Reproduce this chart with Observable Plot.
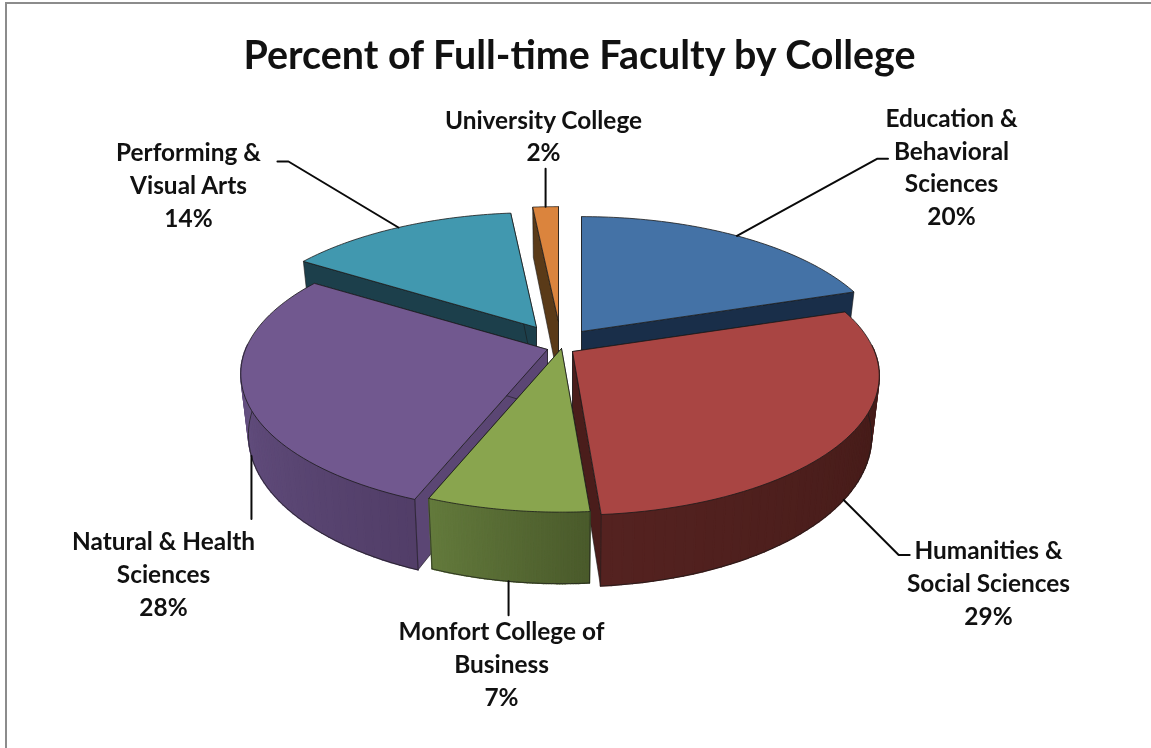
<!DOCTYPE html>
<html><head><meta charset="utf-8">
<script src="https://cdn.jsdelivr.net/npm/d3@7"></script>
<script src="https://cdn.jsdelivr.net/npm/@observablehq/plot@0.6"></script>
<style>
html,body{margin:0;padding:0;background:#fff;overflow:hidden}
#frame{position:relative;width:1151px;height:748px;box-sizing:border-box;overflow:hidden;filter:blur(0.4px)}
#frame:before{content:"";position:absolute;left:5px;top:2px;right:-10px;bottom:-10px;border:2px solid #8c8c8c;pointer-events:none}
h1{margin:0;height:90px;text-align:center;font:700 39.4px/108px Lato,sans-serif;color:#111;padding-left:8px;box-sizing:border-box;white-space:nowrap}
svg{display:block;font-family:Lato,sans-serif}
</style></head><body>
<div id="frame"><h1>Percent of Full-time Faculty by College</h1><div id="chart"></div></div>
<script>
// Data
const colleges = ["Education & Behavioral Sciences","Humanities & Social Sciences","Monfort College of Business","Natural & Health Sciences","Performing & Visual Arts","University College"];
const labelLines = ["Education &\nBehavioral\nSciences","Humanities &\nSocial Sciences","Monfort College of\nBusiness","Natural & Health\nSciences","Performing &\nVisual Arts","University College"];
const shares = [20,28.75,7.25,28,14.4,1.6];
const shownPercent = [20,29,7,28,14,2];

// Styles
const topColors = ["#4472a6","#a94543","#89a54e","#71588f","#4198af","#db843d"];
const wallFrom  = ["#1f3a5c","#3e1815","#4a5a2b","#523e68","#1c3f4b","#5a3a18"];
const wallTo    = ["#2a4a70","#542220","#637a3c","#6f5a8f","#1c3f4b","#5a3a18"];
const cutColors = ["#192e49","#4a1d1b","#56692f","#5b4674","#1c3f4b","#5a3a18"];

// Layout of the exploded, tilted disc
const apexX = [581,572,561,547,536,558];
const apexY = [331,351,348,349,327,321];
const R = 302, tilt = 135, persp = 0.175, depth = 59, narrowing = 0.975;
const paint = [4,0,5,3,1,2];
// Label centres and leader geometry
const labelX = [951,988,501,163,188,543];
const labelY = [165,581,662,572,183,134];
const leaderOnWall = [false,true,true,true,false,false];
const kneeDx = [140,55,0,0,-110,0];
const kneeDy = [-77,55,34,63,-66,-38];
const endDx = [151,66,0,0,-121,0];

let acc = 0;
const spans = shares.map(v => { const a = acc/100*2*Math.PI; acc += v; return [a, acc/100*2*Math.PI]; });

function topPt(i, a) {
  const X = Math.sin(a), Y = Math.cos(a), s = 1/(1+persp*Y);
  return {x: apexX[i]+R*X*s, y: apexY[i]-tilt*Y*s};
}
function botPt(i, a) {
  const X = Math.sin(a), Y = Math.cos(a), s = 1/(1+persp*Y);
  return {x: apexX[i]+R*X*s*narrowing, y: apexY[i]-tilt*Y*s+depth*s};
}
const N = 60;
function arc(i, fn) {
  const [a0,a1] = spans[i];
  return d3.range(N+1).map(k => fn(i, a0+(a1-a0)*k/N));
}
const angleAt = (i,k) => spans[i][0]+(spans[i][1]-spans[i][0])*k/N;
const facing = (i,k) => Math.cos(angleAt(i,k)) < 0.02;

const marks = [];
const xy = {x:"x", y:"y"};
const edge = "#1a1a1a";
for (const i of paint) {
  const apexT = {x: apexX[i], y: apexY[i]}, apexB = {x: apexX[i], y: apexY[i]+depth};
  const tops = arc(i, topPt), bots = arc(i, botPt);
  // radial cut faces
  [[apexT, tops[0], bots[0], apexB, apexT],[apexT, tops[N], bots[N], apexB, apexT]]
    .forEach(q => marks.push(Plot.line(q, {...xy, fill: cutColors[i], stroke:edge, strokeWidth:0.6})));
  // outer wall, shaded strip by strip; only the part that faces the viewer
  const shade = d3.interpolateRgb(wallFrom[i], wallTo[i]);
  const strips = [];
  for (let k=0;k<N;k++) {
    if (!facing(i,k) && !facing(i,k+1)) continue;
    const id = k, c = shade(k/(N-1));
    [tops[k],tops[k+1],bots[k+1],bots[k],tops[k]].forEach(p => strips.push({...p, id, c}));
  }
  if (strips.length) {
    marks.push(Plot.line(strips, {...xy, z:"id", fill:"c", stroke:"c", strokeWidth:1.5}));
    const vis = bots.filter((p,k) => facing(i,k));
    marks.push(Plot.line(vis, {...xy, stroke:edge, strokeWidth:0.7}));
    if (facing(i,0)) marks.push(Plot.line([tops[0],bots[0]], {...xy, stroke:edge, strokeWidth:0.6}));
    if (facing(i,N)) marks.push(Plot.line([tops[N],bots[N]], {...xy, stroke:edge, strokeWidth:0.6}));
  }
  // top face
  marks.push(Plot.line([apexT,...tops,apexT], {...xy, fill: topColors[i], stroke:edge, strokeWidth:0.8}));
}
// Leader lines
shares.forEach((v,i) => {
  const mid = (spans[i][0]+spans[i][1])/2;
  const p = (leaderOnWall[i] ? botPt : topPt)(i, mid);
  const knee = {x:p.x+kneeDx[i], y:p.y+kneeDy[i]}, end = {x:p.x+endDx[i], y:p.y+kneeDy[i]};
  marks.push(Plot.line([p,knee,end], {...xy, stroke:"#0a0a0a", strokeWidth:2, strokeLinejoin:"miter"}));
});
// Labels
const labelRows = colleges.map((c,i) => ({c, x:labelX[i], y:labelY[i], t:labelLines[i]+"\n"+shownPercent[i]+"%"}));
marks.push(Plot.text(labelRows, {x:"x", y:"y", text:"t", fontSize:24.4, fontWeight:700, lineHeight:1.345, fill:"#111", textAnchor:"middle", lineAnchor:"middle", fontFamily:"Lato"}));

const top0 = 90, H = 748-top0;
const chart = Plot.plot({
  width:1151, height:H, margin:0,
  x:{type:"linear", domain:[0,1151], range:[0,1151], axis:null},
  y:{type:"linear", domain:[top0,748], range:[0,H], axis:null},
  color:{type:"identity"},
  style:{background:"transparent", overflow:"visible"},
  marks
});
document.getElementById("chart").append(chart);
</script>
</body></html>
